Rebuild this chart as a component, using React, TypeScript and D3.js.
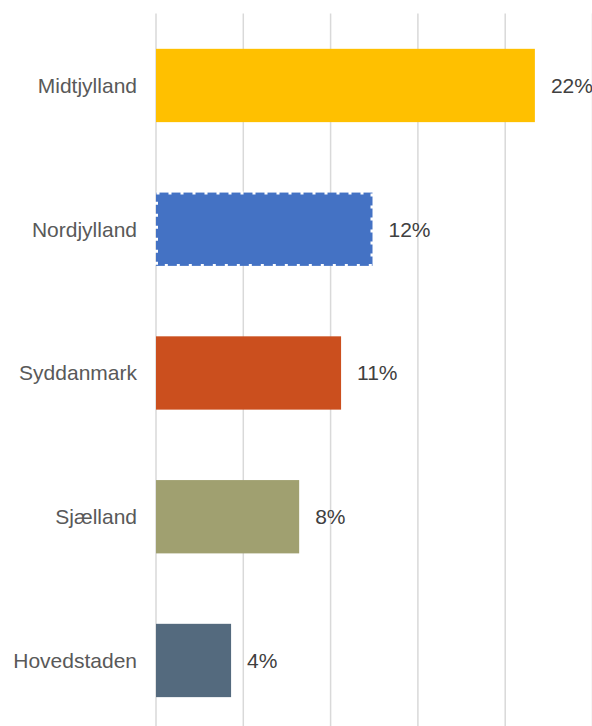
import React from "react";
import * as d3 from "d3";

// regions, top to bottom
const regions = ["Midtjylland", "Nordjylland", "Syddanmark", "Sjælland", "Hovedstaden"];
// share in percent
const shares = [21.7, 12.4, 10.6, 8.2, 4.3];
// labels as printed next to the bars
const shareLabels = ["22%", "12%", "11%", "8%", "4%"];
const barColors = ["#FFC000", "#4472C4", "#CB4F1E", "#A0A070", "#546A7E"];
const gridTicks = [0, 5, 10, 15, 20, 25];

const width = 592;
const height = 726;
const left = 156;
const top = 13.6;

export default function App() {
  const x = d3.scaleLinear().domain([0, 25]).range([left, 592.5]);
  const y = d3
    .scaleBand<string>()
    .domain(regions)
    .range([top, top + 143.75 * regions.length])
    .paddingInner(0.49)
    .paddingOuter(0.245);

  const font = "'Liberation Sans', Arial, sans-serif";

  return (
    <div style={{ position: "absolute", left: 0, top: 0 }}>
      <svg width={width} height={height} style={{ display: "block", background: "#fff" }}>
        {gridTicks.map(t => (
          <line
            key={t}
            x1={x(t)}
            x2={x(t)}
            y1={top}
            y2={height}
            stroke="#d9d9d9"
            strokeWidth={1.5}
          />
        ))}
        {regions.map((r, i) => {
          const y0 = y(r)!;
          const bw = y.bandwidth();
          const cy = y0 + bw / 2;
          return (
            <g key={r}>
              <rect x={x(0)} y={y0} width={x(shares[i]) - x(0)} height={bw} fill={barColors[i]} />
              {r === "Nordjylland" && (
                <rect
                  x={x(0) + 0.5}
                  y={y0 + 0.5}
                  width={x(shares[i]) - x(0) - 1}
                  height={bw - 1}
                  fill="none"
                  stroke="#fff"
                  strokeWidth={3}
                  strokeDasharray="3 9"
                />
              )}
              <text
                x={137}
                y={cy}
                dy="0.35em"
                textAnchor="end"
                fontFamily={font}
                fontSize={21}
                fill="#595959"
              >
                {r}
              </text>
              <text
                x={x(shares[i]) + 16}
                y={cy}
                dy="0.35em"
                fontFamily={font}
                fontSize={21}
                fill="#404040"
              >
                {shareLabels[i]}
              </text>
            </g>
          );
        })}
      </svg>
    </div>
  );
}
